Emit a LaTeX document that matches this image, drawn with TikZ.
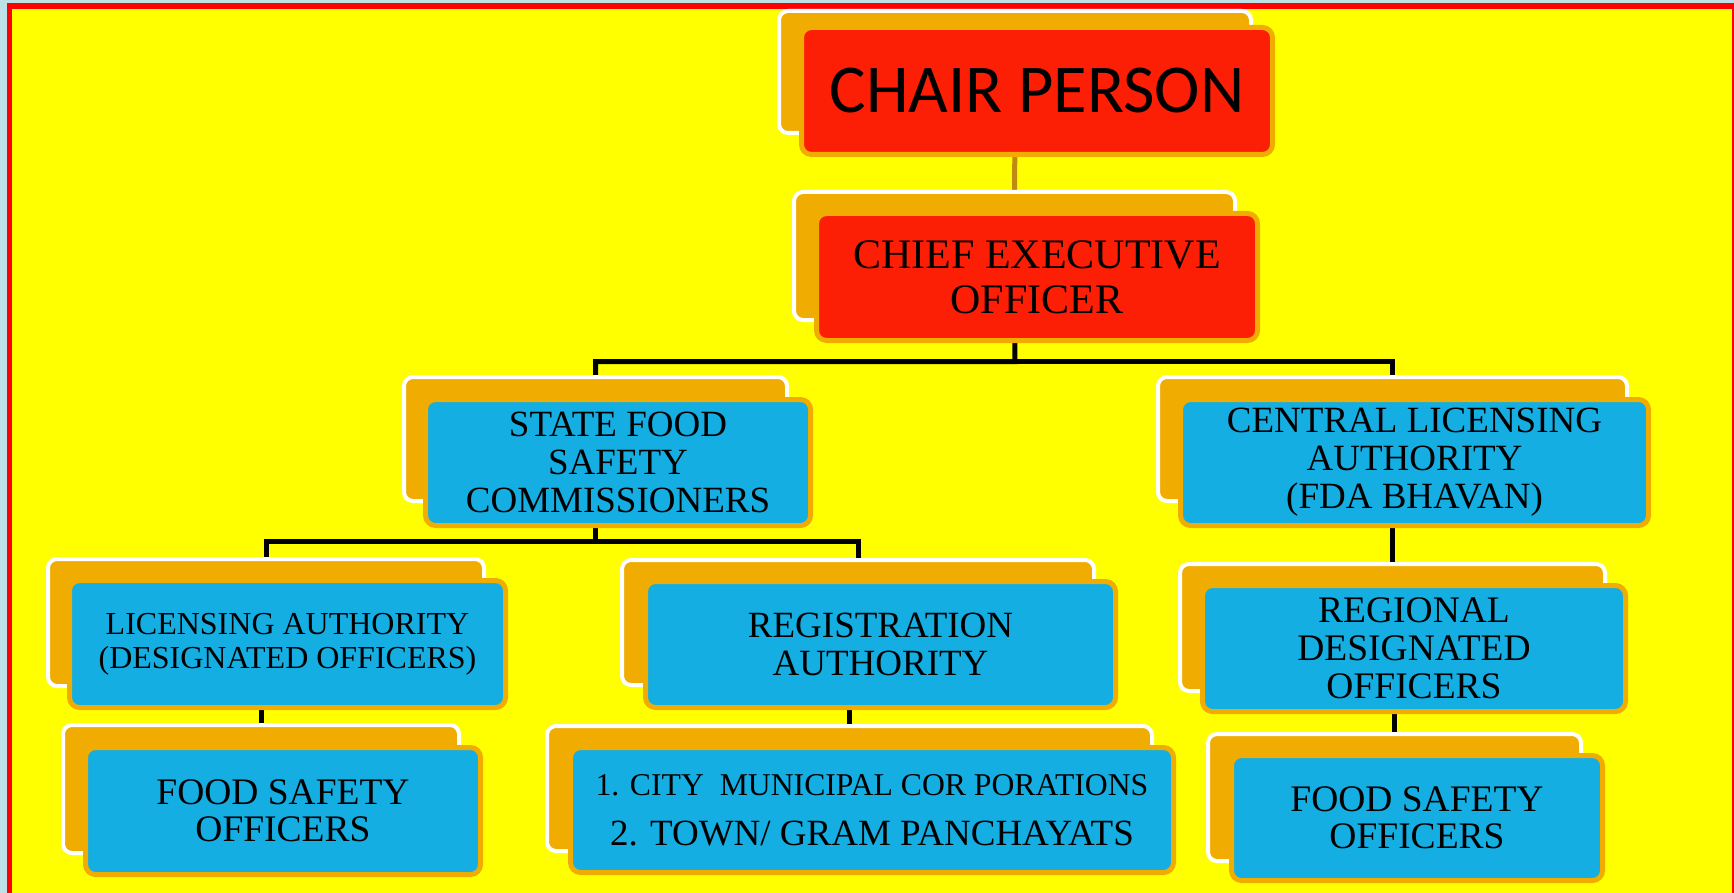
\documentclass[tikz,border=0pt]{standalone}
\usepackage{fontspec}
\setmainfont{Liberation Serif}
\newfontfamily\carlito{Carlito}
\pgfdeclarelayer{canvas}
\pgfdeclarelayer{background}
\pgfsetlayers{canvas,background,main}
\definecolor{pagebg}{RGB}{190,225,232}
\definecolor{frame}{RGB}{255,0,0}
\definecolor{paper}{RGB}{255,255,0}
\definecolor{boxorange}{RGB}{240,172,0}
\definecolor{boxred}{RGB}{252,30,5}
\definecolor{boxblue}{RGB}{20,174,226}
\definecolor{tanline}{RGB}{192,138,16}
\tikzset{
  backbox/.style={draw=white, fill=boxorange, line width=4pt, rounded corners=9pt, inner sep=0pt},
  frontbox/.style={draw=boxorange, line width=5pt, rounded corners=10pt, inner sep=0pt, align=center, text=black},
  redbox/.style={frontbox, fill=boxred},
  bluebox/.style={frontbox, fill=boxblue},
  link/.style={draw=black, line width=5pt},
  tanlink/.style={draw=tanline, line width=5pt},
}
\begin{document}
\begin{tikzpicture}[x=1pt,y=-1pt]
\useasboundingbox (0,0) rectangle (1734,893);
\begin{pgfonlayer}{canvas}
\fill[pagebg] (0,0) rectangle (1734,893);
\fill[frame] (7,3) rectangle (1734,893);
\fill[paper] (12,9) rectangle (1732,893);
\end{pgfonlayer}

% Chair person
\node[backbox, minimum width=472pt, minimum height=122pt] (chairB) at (1015,72) {};
\node[redbox, minimum width=471pt, minimum height=127pt, font=\carlito\fontsize{68.5}{70}\selectfont] (chair) at (1037,91) {CHAIR PERSON};
% CEO
\node[backbox, minimum width=441pt, minimum height=128pt] (ceoB) at (1014.5,256) {};
\node[redbox, minimum width=441pt, minimum height=127pt, font=\fontsize{42}{45}\selectfont] (ceo) at (1037,277) {CHIEF EXECUTIVE\\OFFICER};
% State food safety commissioners
\node[backbox, minimum width=383pt, minimum height=124pt] (sfscB) at (595.5,439) {};
\node[bluebox, minimum width=385pt, minimum height=126pt, font=\fontsize{37}{38}\selectfont] (sfsc) at (618,462.5) {STATE FOOD\\SAFETY\\COMMISSIONERS};
% Central licensing authority
\node[backbox, minimum width=469pt, minimum height=124pt] (claB) at (1392.5,439) {};
\node[bluebox, minimum width=468pt, minimum height=126pt, font=\fontsize{37}{38}\selectfont] (cla) at (1414.5,462.5) {CENTRAL LICENSING\\AUTHORITY\\(FDA BHAVAN)};
% Licensing authority
\node[backbox, minimum width=436pt, minimum height=127pt] (laB) at (266,622.5) {};
\node[bluebox, minimum width=436pt, minimum height=127pt, font=\fontsize{32}{34}\selectfont] (la) at (287.5,644) {LICENSING AUTHORITY\\(DESIGNATED OFFICERS)};
% Registration authority
\node[backbox, minimum width=472pt, minimum height=125pt] (raB) at (858,622.5) {};
\node[bluebox, minimum width=470pt, minimum height=126pt, font=\fontsize{37}{38}\selectfont] (ra) at (880.5,644.5) {REGISTRATION\\AUTHORITY};
% Food safety officers (left)
\node[backbox, minimum width=396pt, minimum height=128pt] (fsolB) at (261,789) {};
\node[bluebox, minimum width=395pt, minimum height=127pt, font=\fontsize{37.5}{37}\selectfont] (fsol) at (283,811) {FOOD SAFETY\\OFFICERS};
% City / town
\node[backbox, minimum width=605pt, minimum height=125pt] (cityB) at (849.5,788.5) {};
\node[bluebox, minimum width=603pt, minimum height=125pt, font=\fontsize{37}{50}\selectfont] (city) at (872,810) {{\fontsize{31.7}{50}\selectfont 1. CITY\ \ MUNICIPAL COR PORATIONS}\\2. TOWN/ GRAM PANCHAYATS};
% Regional designated officers
\node[backbox, minimum width=425pt, minimum height=127pt] (rdoB) at (1392.5,627.5) {};
\node[bluebox, minimum width=423pt, minimum height=126pt, font=\fontsize{37.5}{38}\selectfont] (rdo) at (1414,648.5) {REGIONAL\\DESIGNATED\\OFFICERS};
% Food safety officers (right)
\node[backbox, minimum width=373pt, minimum height=127pt] (fsorB) at (1394.5,797.5) {};
\node[bluebox, minimum width=371pt, minimum height=125pt, font=\fontsize{37.5}{37}\selectfont] (fsor) at (1417,818) {FOOD SAFETY\\OFFICERS};

\begin{pgfonlayer}{background}
\draw[tanlink] (chairB.south) -- (ceoB.north);
\coordinate (j1) at (1015,361.5);
\draw[link] (ceoB.south) -- (j1) -| (sfscB.north);
\draw[link] (j1) -| (claB.north);
\coordinate (j2) at (595.5,541);
\draw[link] (sfscB.south) -- (j2) -| (laB.north);
\draw[link] (j2) -| (raB.north);
\draw[link] (claB.south) -- (rdoB.north);
\draw[link] (fsolB.north |- laB.south) -- (fsolB.north);
\draw[link] (cityB.north |- raB.south) -- (cityB.north);
\draw[link] (fsorB.north |- rdoB.south) -- (fsorB.north);
\end{pgfonlayer}
\end{tikzpicture}
\end{document}
